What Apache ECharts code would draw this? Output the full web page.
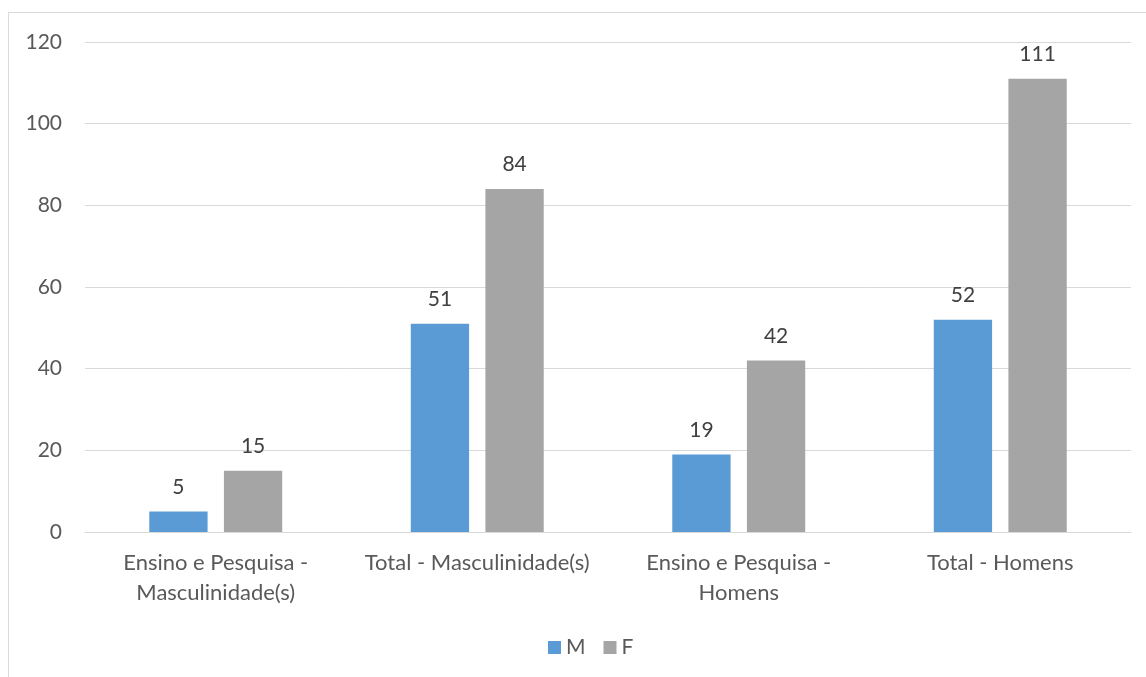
<!DOCTYPE html>
<html>
<head>
<meta charset="utf-8">
<script src="https://cdn.jsdelivr.net/npm/echarts@6/dist/echarts.min.js"></script>
<style>
    body { margin: 0; background: #fff; }
    #frame { position: absolute; left: 8px; top: 12px; width: 1150px; height: 700px; border: 1px solid #d9d9d9; }
    #chart { position: absolute; left: 0; top: 0; width: 1146px; height: 677px; }
</style>
</head>
<body>
<div id="frame"></div>
<div id="chart"></div>
<script>
    const categories = ['Ensino e Pesquisa -\nMasculinidade(s)', 'Total - Masculinidade(s)', 'Ensino e Pesquisa -\nHomens', 'Total - Homens'];
    const seriesNames = ['M', 'F'];
    const valuesM = [5, 51, 19, 52];
    const valuesF = [15, 84, 42, 111];
    const fontFamily = 'Lato, "Open Sans", sans-serif';

    const chart = echarts.init(document.getElementById('chart'));
    const labelStyle = {
        show: true,
        position: 'top',
        distance: 14,
        color: '#404040',
        fontSize: 21,
        fontFamily: fontFamily,
    };
    const option = {
        animation: false,
        grid: {
            left: 85,
            right: 15,
            top: 42,
            bottom: 145,
            containLabel: false,
        },
        legend: {
            bottom: 14,
            left: 543,
            icon: 'rect',
            itemWidth: 13,
            itemHeight: 13,
            itemGap: 18,
            itemTextGap: 7,
            textStyle: { color: '#595959', fontSize: 21, fontFamily: fontFamily },
            data: seriesNames,
        },
        xAxis: {
            type: 'category',
            data: categories,
            axisTick: { show: false },
            axisLine: { lineStyle: { color: '#d9d9d9', width: 1 } },
            axisLabel: {
                color: '#595959',
                fontSize: 22,
                fontFamily: fontFamily,
                margin: 16,
                lineHeight: 30,
                interval: 0,
            },
        },
        yAxis: {
            type: 'value',
            min: 0,
            max: 120,
            interval: 20,
            axisLine: { show: false },
            axisTick: { show: false },
            axisLabel: { color: '#595959', fontSize: 21, fontFamily: fontFamily, margin: 23 },
            splitLine: { lineStyle: { color: '#d9d9d9', width: 1 } },
        },
        series: [
            {
                name: seriesNames[0],
                type: 'bar',
                data: valuesM,
                barWidth: '22.3%',
                barGap: '28%',
                itemStyle: { color: '#5b9bd5' },
                label: labelStyle,
            },
            {
                name: seriesNames[1],
                type: 'bar',
                data: valuesF,
                barWidth: '22.3%',
                barGap: '28%',
                itemStyle: { color: '#a5a5a5' },
                label: labelStyle,
            },
        ],
    };
    chart.setOption(option);
</script>
</body>
</html>
